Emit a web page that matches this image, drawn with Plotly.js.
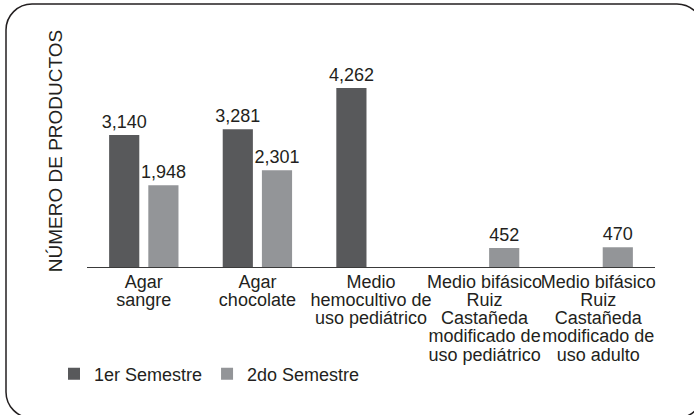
<!DOCTYPE html>
<html>
<head>
<meta charset="utf-8">
<script src="https://cdn.plot.ly/plotly-3.0.1.min.js"></script>
<style>
  html, body { margin: 0; padding: 0; background: #ffffff; }
  #chart { width: 694px; height: 415px; }
</style>
</head>
<body>
<div id="chart"></div>
<script>
// ---- data ----
const tickLines = [
  ['Agar', 'sangre'],
  ['Agar', 'chocolate'],
  ['Medio', 'hemocultivo de', 'uso pediátrico'],
  ['Medio bifásico', 'Ruiz', 'Castañeda', 'modificado de', 'uso pediátrico'],
  ['Medio bifásico', 'Ruiz', 'Castañeda', 'modificado de', 'uso adulto']
];
const categories = tickLines.map(l => l.join(' '));
const seriesNames = ['1er Semestre', '2do Semestre'];
const sem1 = [3140, 3281, 4262, null, null];
const sem2 = [1948, 2301, null, 452, 470];
const yTitle = 'NÚMERO DE PRODUCTOS';

// ---- styling ----
const FONT = 'Liberation Sans, Arial, Helvetica, sans-serif';
const TXT = '#231f20';
const W = 694, H = 415;
const M = { l: 87, r: 39, t: 35, b: 148 };
const plotW = W - M.l - M.r, plotH = H - M.t - M.b;
const px = x => ((x - M.l) / plotW).toFixed(4);
const py = y => ((H - M.b - y) / plotH).toFixed(4);

const ticktext = tickLines.map(l =>
  l.map(s => '<span style="font-size:18px">' + s + '</span>').join('<br>'));

// rounded frame path (pixel -> paper)
function framePath(L, T, R, B, r) {
  const k = r * 0.5523;
  const P = (x, y) => px(x) + ',' + py(y);
  return 'M' + P(L, T + r) +
    ' C' + P(L, T + r - k) + ' ' + P(L + r - k, T) + ' ' + P(L + r, T) +
    ' L' + P(R - r, T) +
    ' C' + P(R - r + k, T) + ' ' + P(R, T + r - k) + ' ' + P(R, T + r) +
    ' L' + P(R, B - r) +
    ' C' + P(R, B - r + k) + ' ' + P(R - r + k, B) + ' ' + P(R - r, B) +
    ' L' + P(L + r, B) +
    ' C' + P(L + r - k, B) + ' ' + P(L, B - r + k) + ' ' + P(L, B - r) + ' Z';
}

const common = {
  type: 'bar',
  x: categories,
  texttemplate: '%{y:,}',
  textposition: 'outside',
  constraintext: 'none',
  cliponaxis: false,
  textfont: { family: FONT, size: 18, color: TXT },
  hoverinfo: 'skip'
};

const traces = [
  Object.assign({}, common, { name: seriesNames[0], y: sem1, marker: { color: '#58595b' } }),
  Object.assign({}, common, { name: seriesNames[1], y: sem2, marker: { color: '#939598' } })
];

const layout = {
  width: W, height: H,
  margin: M,
  paper_bgcolor: '#ffffff',
  plot_bgcolor: '#ffffff',
  font: { family: FONT, size: 18, color: TXT },
  bargap: 0.31,
  bargroupgap: 0.23,
  showlegend: true,
  legend: {
    orientation: 'h',
    x: (54 - M.l) / plotW, xanchor: 'left',
    y: (H - M.b - 374) / plotH, yanchor: 'middle',
    font: { family: FONT, size: 18, color: TXT },
    itemwidth: 30,
    traceorder: 'normal'
  },
  xaxis: {
    type: 'category',
    categoryorder: 'array',
    categoryarray: categories,
    tickvals: categories,
    ticktext: ticktext,
    tickangle: 0,
    ticklabelstandoff: 3,
    tickfont: { family: FONT, size: 14, color: TXT },
    showline: true, linecolor: '#3a3a3a', linewidth: 1,
    ticks: '', showgrid: false, zeroline: false,
    fixedrange: true
  },
  yaxis: {
    range: [0, 5524],
    showticklabels: false, ticks: '', showgrid: false, zeroline: false, showline: false,
    title: { text: yTitle, font: { family: FONT, size: 19, color: TXT }, standoff: 18 },
    fixedrange: true
  },
  shapes: [{
    type: 'path', xref: 'paper', yref: 'paper',
    path: framePath(6, 4, 703, 418, 26),
    line: { color: '#231f20', width: 1.5 },
    fillcolor: 'rgba(0,0,0,0)'
  }]
};

Plotly.newPlot('chart', traces, layout, { staticPlot: true, displayModeBar: false });
</script>
</body>
</html>
